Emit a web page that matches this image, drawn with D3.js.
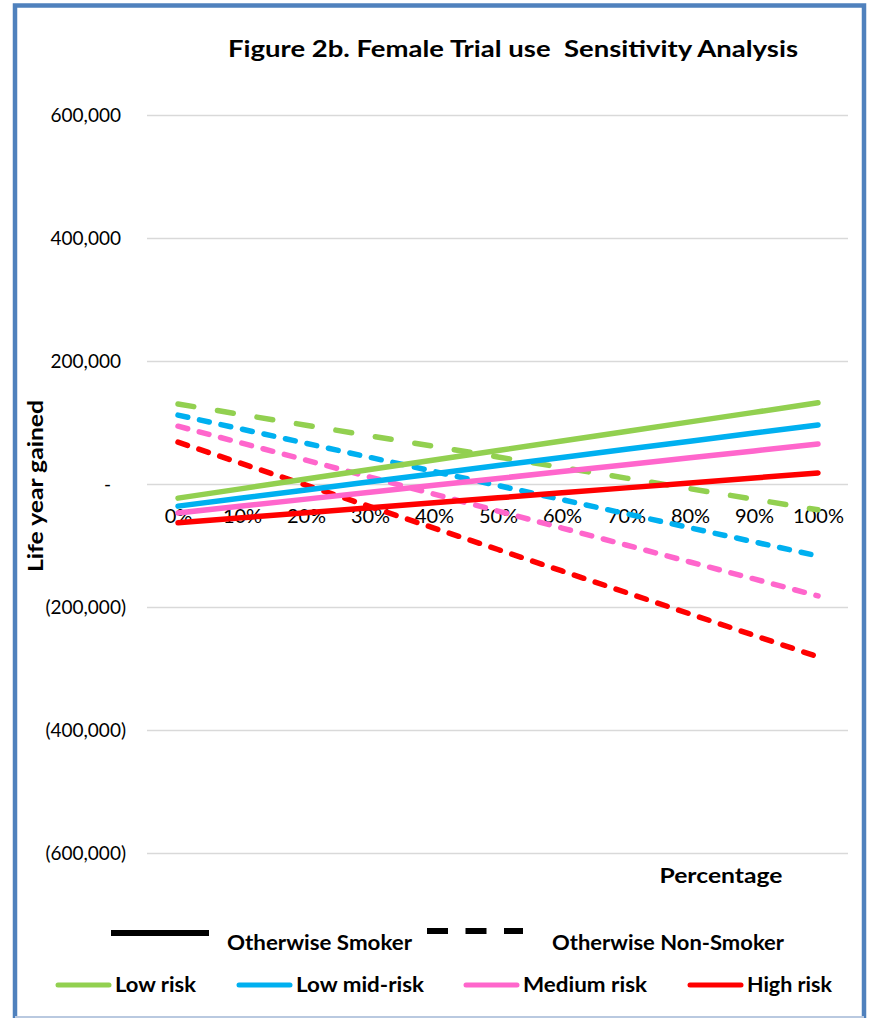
<!DOCTYPE html>
<html>
<head>
<meta charset="utf-8">
<script src="https://cdn.jsdelivr.net/npm/d3@7/dist/d3.min.js"></script>
<style>
  html, body { margin: 0; padding: 0; background: #fff; }
  svg { display: block; font-family: Lato, "Open Sans", sans-serif; }
  .pre { white-space: pre; }
</style>
</head>
<body>
<svg id="chart" width="870" height="1018"></svg>
<script>
// ---- Data ----
const categories = ["0%", "10%", "20%", "30%", "40%", "50%", "60%", "70%", "80%", "90%", "100%"];
const yTicks = [600000, 400000, 200000, 0, -200000, -400000, -600000];
const riskNames = ["Low risk", "Low mid-risk", "Medium risk", "High risk"];
const riskColors = ["#92D050", "#00B0F0", "#FF66CC", "#FF0000"];
const smokerLabels = ["Otherwise Smoker", "Otherwise Non-Smoker"];

// Otherwise Smoker (solid)
const lowRiskSmoker     = [-23000, -7500, 8000, 23500, 39000, 54500, 70000, 85500, 101000, 116500, 132000];
const lowMidRiskSmoker  = [-36000, -22800, -9600, 3600, 16800, 30000, 43200, 56400, 69600, 82800, 96000];
const mediumRiskSmoker  = [-47000, -35800, -24600, -13400, -2200, 9000, 20200, 31400, 42600, 53800, 65000];
const highRiskSmoker    = [-63000, -54900, -46800, -38700, -30600, -22500, -14400, -6300, 1800, 9900, 18000];

// Otherwise Non-Smoker (dashed)
const lowRiskNonSmoker    = [130000, 112800, 95600, 78400, 61200, 44000, 26800, 9600, -7600, -24800, -42000];
const lowMidRiskNonSmoker = [112000, 89100, 66200, 43300, 20400, -2500, -25400, -48300, -71200, -94100, -117000];
const mediumRiskNonSmoker = [94000, 66400, 38800, 11200, -16400, -44000, -71600, -99200, -126800, -154400, -182000];
const highRiskNonSmoker   = [68000, 33100, -1800, -36700, -71600, -106500, -141400, -176300, -211200, -246100, -281000];

const smokerSeries = [lowRiskSmoker, lowMidRiskSmoker, mediumRiskSmoker, highRiskSmoker];
const nonSmokerSeries = [lowRiskNonSmoker, lowMidRiskNonSmoker, mediumRiskNonSmoker, highRiskNonSmoker];

// ---- Layout ----
const svg = d3.select("#chart");
const plotLeft = 147, plotRight = 848;

const x = d3.scalePoint().domain(categories).range([178, 818]);
const y = d3.scaleLinear().domain([-600000, 600000]).range([853, 115]);

// frame
svg.append("rect")
  .attr("x", 15).attr("y", 5.5).attr("width", 849).attr("height", 1040)
  .attr("fill", "none").attr("stroke", "#4F81BD").attr("stroke-width", 4.5);
svg.append("line")
  .attr("x1", 15).attr("x2", 864).attr("y1", 1017).attr("y2", 1017)
  .attr("stroke", "#b9c9e0").attr("stroke-width", 2);

// gridlines
const grid = svg.append("g").attr("transform", `translate(${plotLeft},0)`)
  .call(d3.axisLeft(y).tickValues(yTicks).tickSize(-(plotRight - plotLeft)).tickFormat(""));
grid.select(".domain").remove();
grid.selectAll(".tick line").attr("stroke", "#d9d9d9").attr("stroke-width", 1.5);

// y axis labels
const fmt = d => d === 0 ? "-" : (d < 0 ? "(" + d3.format(",")(-d) + ")" : d3.format(",")(d));
const yAxis = svg.append("g").attr("transform", "translate(131,0)")
  .call(d3.axisLeft(y).tickValues(yTicks).tickSize(0).tickPadding(5).tickFormat(fmt));
yAxis.select(".domain").remove();
yAxis.selectAll(".tick text")
  .attr("font-family", "Lato, sans-serif").attr("font-size", 19).attr("fill", "#000")
  .attr("dx", d => d > 0 ? -5 : (d === 0 ? -15 : 0));

// x axis labels at zero line
const xAxis = svg.append("g").attr("transform", `translate(0,${y(0)})`)
  .call(d3.axisBottom(x).tickSize(0).tickPadding(25));
xAxis.select(".domain").remove();
xAxis.selectAll(".tick text")
  .attr("font-family", "Lato, sans-serif").attr("font-size", 20).attr("fill", "#000");

// lines
const line = d3.line().x((d, i) => x(categories[i])).y(d => y(d));
const dashes = ["16,24", "10,12", "10,12", "10,12"];

nonSmokerSeries.forEach((s, i) => {
  svg.append("path").datum(s).attr("d", line)
    .attr("fill", "none").attr("stroke", riskColors[i]).attr("stroke-width", 5.5)
    .attr("stroke-linecap", "round").attr("stroke-dasharray", dashes[i]);
});
smokerSeries.forEach((s, i) => {
  svg.append("path").datum(s).attr("d", line)
    .attr("fill", "none").attr("stroke", riskColors[i]).attr("stroke-width", 5.5)
    .attr("stroke-linecap", "round");
});

// title
svg.append("text").attr("class", "pre").attr("x", 513).attr("y", 57).attr("text-anchor", "middle")
  .attr("font-weight", "bold").attr("font-size", 23)
  .attr("textLength", 570).attr("lengthAdjust", "spacingAndGlyphs")
  .text("Figure 2b. Female Trial use  Sensitivity Analysis");

// y title
svg.append("text").attr("transform", "translate(43,486) rotate(-90)")
  .attr("text-anchor", "middle").attr("font-weight", "bold").attr("font-size", 20)
  .attr("textLength", 172).attr("lengthAdjust", "spacingAndGlyphs")
  .text("Life year gained");

// x title
svg.append("text").attr("x", 721).attr("y", 883).attr("text-anchor", "middle")
  .attr("font-weight", "bold").attr("font-size", 21)
  .attr("textLength", 123).attr("lengthAdjust", "spacingAndGlyphs")
  .text("Percentage");

// legend row 1 (line style)
svg.append("line").attr("x1", 111).attr("x2", 209).attr("y1", 933).attr("y2", 933)
  .attr("stroke", "#000").attr("stroke-width", 6);
svg.append("text").attr("x", 227).attr("y", 950).attr("font-weight", "bold").attr("font-size", 20)
  .attr("textLength", 185).attr("lengthAdjust", "spacingAndGlyphs").text(smokerLabels[0]);
svg.append("line").attr("x1", 427).attr("x2", 523).attr("y1", 931).attr("y2", 931)
  .attr("stroke", "#000").attr("stroke-width", 6).attr("stroke-dasharray", "21,17.5");
svg.append("text").attr("x", 552).attr("y", 950).attr("font-weight", "bold").attr("font-size", 20)
  .attr("textLength", 232).attr("lengthAdjust", "spacingAndGlyphs").text(smokerLabels[1]);

// legend row 2 (risk colors)
const legLineX = [56, 237, 464, 688];
const legTextW = [81, 128, 124, 85];
riskNames.forEach((name, i) => {
  svg.append("line").attr("x1", legLineX[i] + 2).attr("x2", legLineX[i] + 53)
    .attr("y1", 985).attr("y2", 985)
    .attr("stroke", riskColors[i]).attr("stroke-width", 5).attr("stroke-linecap", "round");
  svg.append("text").attr("x", legLineX[i] + 59).attr("y", 992)
    .attr("font-weight", "bold").attr("font-size", 20)
    .attr("textLength", legTextW[i]).attr("lengthAdjust", "spacingAndGlyphs").text(name);
});
</script>
</body>
</html>
